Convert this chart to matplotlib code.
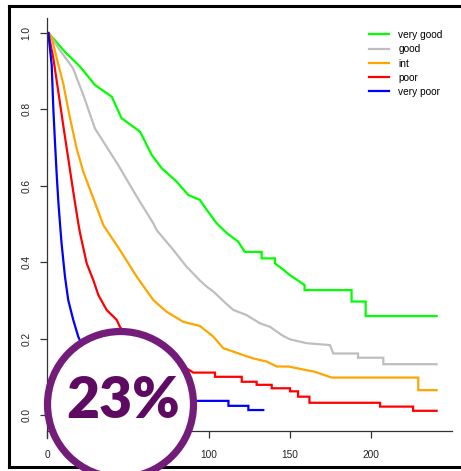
import matplotlib
matplotlib.use("Agg")
import matplotlib.pyplot as plt
from matplotlib.patches import Circle
from matplotlib.lines import Line2D

plt.rcParams['font.family'] = ['Liberation Sans', 'DejaVu Sans']

# ---- data (time, survival) ----
labels = ["very good", "good", "int", "poor", "very poor"]
colors = ["#00FF00", "#BEBEBE", "#FFA500", "#FF0000", "#0000FF"]

vg_t = [0, 1, 11, 20.4, 29.6, 40, 46, 57.4, 64.6, 70.8, 80, 87.2, 94.4, 98.6, 104.7, 111, 118, 122,
        132.5, 132.5, 140.7, 140.7, 146, 150, 156, 159, 159, 188, 188, 196.7, 196.7, 240.5]
vg_s = [1.0, 1.0, 0.951, 0.912, 0.864, 0.833, 0.777, 0.742, 0.681, 0.646, 0.611, 0.576, 0.563, 0.537, 0.502,
        0.476, 0.454, 0.427, 0.427, 0.410, 0.410, 0.397, 0.380, 0.366, 0.349, 0.340, 0.327, 0.327, 0.297,
        0.297, 0.259, 0.259]

gd_t = [0, 1, 8, 16, 22.4, 29.6, 36.8, 44, 51.2, 57.4, 65.6, 67.7, 78, 86.2, 94.4, 98.6, 102.7, 111, 115,
        123, 131.5, 137.6, 145, 150, 160.3, 174.7, 176.7, 192, 192, 207.6, 207.6, 240.5]
gd_s = [1.0, 1.0, 0.955, 0.908, 0.838, 0.750, 0.702, 0.654, 0.602, 0.558, 0.502, 0.484, 0.432, 0.388, 0.352,
        0.336, 0.323, 0.290, 0.275, 0.262, 0.240, 0.231, 0.209, 0.198, 0.188, 0.183, 0.161, 0.161, 0.150,
        0.150, 0.133, 0.133]

in_t = [0, 1, 3, 6, 10, 14.2, 18.3, 22.4, 28.6, 34.8, 36.8, 45, 55.4, 65.6, 73.9, 84.1, 94.4, 102.7, 108.8,
        115, 121, 127.4, 135.6, 141.8, 149, 165.4, 175.7, 229.2, 229.2, 240.5]
in_s = [1.0, 1.0, 0.986, 0.934, 0.868, 0.777, 0.698, 0.637, 0.567, 0.497, 0.484, 0.432, 0.362, 0.301, 0.270,
        0.244, 0.233, 0.205, 0.175, 0.166, 0.157, 0.148, 0.140, 0.127, 0.127, 0.113, 0.098, 0.098, 0.065,
        0.065]

pr_t = [0, 1, 1.9, 3.9, 7, 10, 13.1, 16.2, 19.3, 20.4, 24.5, 28.6, 31.7, 36.8, 43, 45, 50, 56, 62, 70, 78,
        86.2, 90.3, 103.7, 103.7, 120.2, 120.2, 129.4, 129.4, 138.7, 138.7, 150, 150, 155, 155, 162, 162,
        205.6, 205.6, 226, 226, 240.5]
pr_s = [1.0, 1.0, 0.977, 0.934, 0.846, 0.759, 0.672, 0.585, 0.502, 0.476, 0.397, 0.353, 0.314, 0.275, 0.249,
        0.231, 0.20, 0.175, 0.155, 0.14, 0.13, 0.122, 0.111, 0.111, 0.100, 0.100, 0.087, 0.087, 0.079,
        0.079, 0.070, 0.070, 0.062, 0.062, 0.048, 0.048, 0.032, 0.032, 0.022, 0.022, 0.011, 0.011]

vp_t = [0, 0.8, 2.9, 3.9, 4.9, 6, 7, 8, 9, 11.1, 13.1, 16.2, 19.3, 25, 32, 40, 50, 60, 75, 92.4, 112, 112,
        124.3, 124.3, 133.5]
vp_s = [1.0, 1.0, 0.916, 0.803, 0.716, 0.628, 0.558, 0.502, 0.449, 0.362, 0.301, 0.249, 0.205, 0.15, 0.11,
        0.085, 0.065, 0.055, 0.045, 0.037, 0.037, 0.024, 0.024, 0.013, 0.013]

series_t = [vg_t, gd_t, in_t, pr_t, vp_t]
series_s = [vg_s, gd_s, in_s, pr_s, vp_s]

x_ticks = [0, 50, 100, 150, 200]
y_ticks = [0.0, 0.2, 0.4, 0.6, 0.8, 1.0]
badge_text = "23%"

W, H = 461, 471
fig = plt.figure(figsize=(W / 100, H / 100), dpi=100)

# axes: x 0..250 maps to px 47..452 ; y px 18..438
ylo, yhi = -0.0602, 1.0393
ax = fig.add_axes([47 / W, (H - 438) / H, (452 - 47) / W, (438 - 18) / H])
ax.set_xlim(0, 250)
ax.set_ylim(ylo, yhi)

for t, s, c, lab in zip(series_t, series_s, colors, labels):
    ax.plot(t, s, color=c, lw=1.6, label=lab, solid_joinstyle='miter')

for sp in ['top', 'right']:
    ax.spines[sp].set_visible(False)
ax.spines['bottom'].set_position(('data', -0.042))
ax.spines['bottom'].set_color('#333333')
ax.spines['left'].set_color('#333333')
ax.spines['bottom'].set_linewidth(0.9)
ax.spines['left'].set_linewidth(0.9)

ax.set_xticks(x_ticks)
ax.set_xticklabels([str(v) for v in x_ticks])
ax.set_yticks(y_ticks)
ax.set_yticklabels([f"{v:.1f}" for v in y_ticks], rotation=90, va='center')
ax.tick_params(axis='both', direction='out', length=5, width=0.9, color='#333333',
               labelsize=7.3, labelcolor='#222222')
ax.tick_params(axis='x', pad=9)
ax.tick_params(axis='y', pad=6)

ax.legend(loc='upper left', bbox_to_anchor=(369 / W, (H - 30) / H), bbox_transform=fig.transFigure,
          frameon=False, fontsize=7.3, handlelength=2.0, handletextpad=0.9, labelspacing=0.42,
          borderpad=0, borderaxespad=0)

# outer frame
fig.add_artist(Line2D([9 / W, 9 / W], [(H - 467) / H, (H - 6) / H], color='black', lw=2.2,
                      transform=fig.transFigure))
fig.add_artist(Line2D([9 / W, 1.0], [(H - 6) / H, (H - 6) / H], color='black', lw=2.2,
                      transform=fig.transFigure))
fig.add_artist(Line2D([9 / W, 1.0], [(H - 467) / H, (H - 467) / H], color='black', lw=2.2,
                      transform=fig.transFigure))

# badge
circ = Circle((120.5 / 100, (H - 404.5) / 100), 0.73, transform=fig.dpi_scale_trans,
              facecolor='white', edgecolor='#731C7A', lw=5.2, zorder=10)
fig.add_artist(circ)
fig.text(123 / W, (H - 401) / H, badge_text, family=['Lato', 'DejaVu Sans'], fontweight='heavy',
         fontsize=41, color='#5E0A62', ha='center', va='center', zorder=11)

fig.savefig("out.png", dpi=100)
